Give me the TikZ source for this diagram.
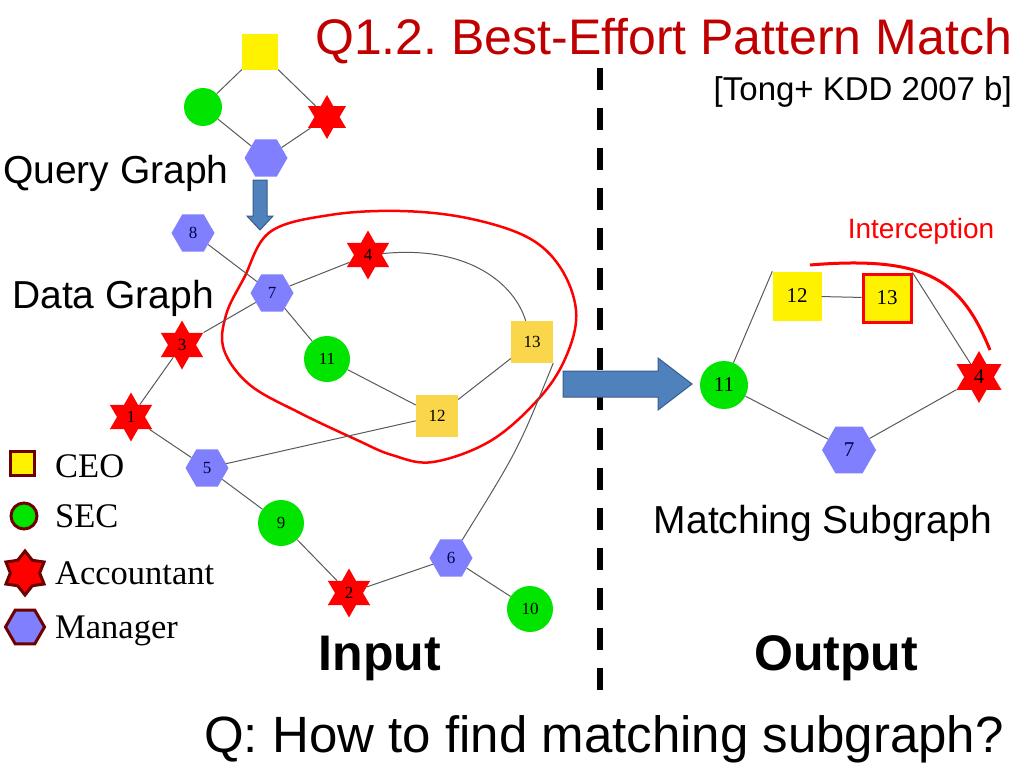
\documentclass[tikz,border=0pt]{standalone}
\usepackage{fontspec}
\setmainfont{Liberation Serif}
\setsansfont{Liberation Sans}
\usetikzlibrary{shapes.geometric}
\definecolor{titlered}{RGB}{192,0,0}
\definecolor{hexblue}{RGB}{128,128,255}
\definecolor{nodegreen}{RGB}{0,228,0}
\definecolor{gold}{RGB}{250,214,75}
\definecolor{legendedge}{RGB}{110,0,0}
\definecolor{arrowblue}{RGB}{79,129,189}
\definecolor{arrowedge}{RGB}{56,93,138}

\begin{document}
\frenchspacing
\begin{tikzpicture}[x=1pt,y=-1pt,
	ceo/.style={rectangle,fill=gold,minimum size=42pt,inner sep=0pt,font=\fontsize{17}{17}\selectfont},
	sec/.style={circle,fill=nodegreen,minimum size=46pt,inner sep=0pt,font=\fontsize{17}{17}\selectfont},
	acc/.style={star,star points=6,star point ratio=1.75,fill=red,minimum size=49pt,inner sep=0pt,font=\fontsize{17}{17}\selectfont},
	mgr/.style={regular polygon,regular polygon sides=6,fill=hexblue,minimum size=43pt,inner sep=0pt,text=blue!30!black,font=\fontsize{17}{17}\selectfont},
	big/.style={minimum size=#1,font=\fontsize{21}{21}\selectfont},
	edge/.style={draw=black!65,line width=1pt},
	legendtext/.style={anchor=base west,inner sep=0pt,font=\fontsize{34.5}{34.5}\selectfont},
	bigtext/.style={inner sep=0pt,font=\sffamily\fontsize{#1}{#1}\selectfont}]

	\useasboundingbox (0,0) rectangle (1024,768);

	\draw[line width=6pt,dash pattern=on 22pt off 18pt] (600,68) -- (600,690);

	\node[bigtext=50,anchor=base east,text=titlered] (title) at (1012,55) {Q1.2. Best-Effort Pattern Match};
	\node[bigtext=33,anchor=base east] (cite) at (1012,100) {[Tong+ KDD 2007 b]};

	\node[ceo,fill=yellow,minimum size=36pt] (q1) at (260,52) {};
	\node[sec,minimum size=38pt] (q2) at (203,107) {};
	\node[acc,minimum size=44pt] (q3) at (327,117) {};
	\node[mgr,minimum size=43pt] (q4) at (266,158) {};
	\draw[edge] (q1) -- (q2);
	\draw[edge] (q1) -- (q3);
	\draw[edge] (q2) -- (q4);
	\draw[edge] (q3) -- (q4);
	\node[bigtext=39,anchor=base west] (qlabel) at (3,183) {Query Graph};

	\filldraw[fill=arrowblue,draw=arrowedge,line width=1pt] (253,180) -- (267,180) -- (267,216) -- (273,216) -- (260,230) -- (247,216) -- (253,216) -- cycle;

	\draw[red,line width=2.5pt] plot[smooth cycle,tension=0.6] coordinates {(270,232) (330,215) (400,211) (467,218) (527,237) (560,267) (576,310) (568,352) (542,395) (492,440) (433,462) (392,455) (357,440) (300,413) (250,385) (224,350) (226,315) (244,278)};

	\node[acc] (d1) at (131,417) {1};
	\node[acc] (d2) at (349,593) {2};
	\node[acc] (d3) at (182,345) {3};
	\node[acc] (d4) at (368,255) {4};
	\node[mgr] (d5) at (207,468) {5};
	\node[mgr] (d6) at (451,558) {6};
	\node[mgr] (d7) at (272,293) {7};
	\node[mgr] (d8) at (193,233) {8};
	\node[sec] (d9) at (281,523) {9};
	\node[sec] (d10) at (530,609) {10};
	\node[sec] (d11) at (327,359) {11};
	\node[ceo] (d12) at (437,416) {12};
	\node[ceo] (d13) at (532,342) {13};

	\draw[edge] (d8) -- (d7);
	\draw[edge] (d7) -- (d4);
	\draw[edge] (d7) -- (d3);
	\draw[edge] (d7) -- (d11);
	\draw[edge] (d3) -- (d1);
	\draw[edge] (d1) -- (d5);
	\draw[edge] (d5) -- (d12);
	\draw[edge] (d11) -- (d12);
	\draw[edge] (d12) -- (d13);
	\draw[edge] (d4) .. controls (470,245) and (515,285) .. (d13);
	\draw[edge] (d13.south east) .. controls (518,450) .. (d6);
	\draw[edge] (d5) -- (d9);
	\draw[edge] (d9) -- (d2);
	\draw[edge] (d2) -- (d6);
	\draw[edge] (d6) -- (d10);
	\node[bigtext=39,anchor=base west] (dlabel) at (12,308) {Data Graph};

	\node[ceo,fill=yellow,draw=legendedge,line width=3pt,minimum size=24pt] (lceo) at (22,463) {};
	\node[sec,draw=legendedge,line width=3pt,minimum size=26pt] (lsec) at (24,516) {};
	\node[acc,draw=legendedge,line width=3pt,star point ratio=1.5,minimum size=44pt] (lacc) at (25,573) {};
	\node[mgr,draw=legendedge,line width=3pt,minimum size=39pt] (lmgr) at (25,627) {};
	\node[legendtext] (tceo) at (55,477) {CEO};
	\node[legendtext] (tsec) at (55,527) {SEC};
	\node[legendtext] (tacc) at (55,584) {Accountant};
	\node[legendtext] (tmgr) at (55,638) {Manager};

	\filldraw[fill=arrowblue,draw=arrowedge,line width=1pt] (563,371) -- (658,371) -- (658,358) -- (692,384) -- (658,410) -- (658,397) -- (563,397) -- cycle;

	\node[ceo,fill=yellow,big=49pt] (o12) at (797,296) {12};
	\node[ceo,fill=yellow,draw=red,line width=3pt,big=48pt] (o13) at (887,298) {13};
	\node[sec,big=48pt] (o11) at (724,385) {11};
	\node[mgr,big=54pt] (o7) at (849,450) {7};
	\node[acc,big=52pt] (o4) at (979,377) {4};
	\draw[edge] (o11) -- (o12.north west);
	\draw[edge] (o12) -- (o13);
	\draw[edge] (o13.north east) -- (o4);
	\draw[edge] (o4) -- (o7);
	\draw[edge] (o7) -- (o11);
	\draw[red,line width=3pt] (810,265) .. controls (930,255) and (962,282) .. (990,350);
	\node[bigtext=28,text=red,anchor=base] (intercept) at (921,238) {Interception};
	\node[bigtext=39,anchor=base] (mlabel) at (823,533) {Matching Subgraph};

	\node[bigtext=50,anchor=base,font=\sffamily\bfseries\fontsize{50}{50}\selectfont] (input) at (380,670) {Input};
	\node[bigtext=50,anchor=base,font=\sffamily\bfseries\fontsize{50}{50}\selectfont] (output) at (836,670) {Output};
	\node[bigtext=51,anchor=base] (question) at (604,752) {Q: How to find matching subgraph?};
\end{tikzpicture}
\end{document}
